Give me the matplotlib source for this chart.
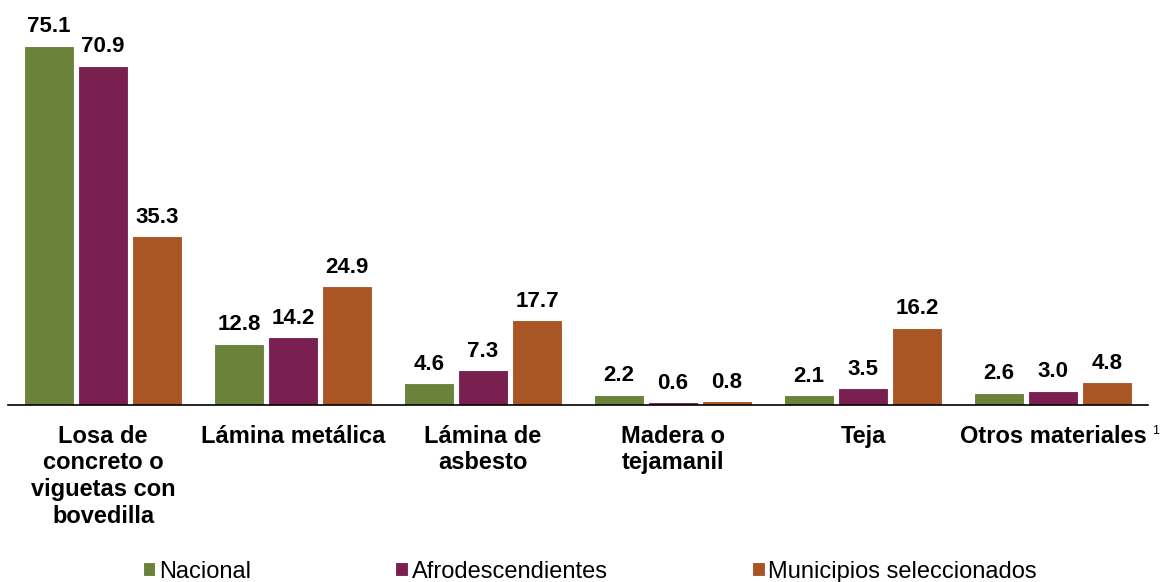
import numpy as np
import matplotlib.pyplot as plt

plt.rcParams['font.family'] = ['Liberation Sans', 'DejaVu Sans']

categorias = ['Losa de\nconcreto o\nviguetas con\nbovedilla', 'Lámina metálica',
              'Lámina de\nasbesto', 'Madera o\ntejamanil', 'Teja', 'Otros materiales']
nacional = [75.1, 12.8, 4.6, 2.2, 2.1, 2.6]
afro = [70.9, 14.2, 7.3, 0.6, 3.5, 3.0]
municipios = [35.3, 24.9, 17.7, 0.8, 16.2, 4.8]

series = [('Nacional', nacional, '#6A823A'),
          ('Afrodescendientes', afro, '#7A2050'),
          ('Municipios seleccionados', municipios, '#AA5624')]

fig = plt.figure(figsize=(11.63, 5.82), dpi=100)
ax = fig.add_axes([0.007, 0.304, 0.980, 0.658])

x = np.arange(len(categorias))
w = 0.265
off = 0.284
for i, (name, vals, col) in enumerate(series):
    bars = ax.bar(x + (i - 1) * off, vals, w, color=col, edgecolor='white',
                  linewidth=0.8, label=name)
    for b, v in zip(bars, vals):
        ax.annotate(f'{v:.1f}', (b.get_x() + b.get_width() / 2, v),
                    xytext=(0, 6), textcoords='offset points',
                    ha='center', va='bottom', fontsize=16, fontweight='bold')

ax.set_xlim(-0.5, 5.5)
ax.set_ylim(0, 80)
ax.set_yticks([])
ax.set_xticks(x)
ax.set_xticklabels(categorias, fontsize=17, fontweight='bold', linespacing=1.22)
ax.tick_params(axis='x', length=0, pad=14)
for s in ['top', 'right', 'left']:
    ax.spines[s].set_visible(False)
ax.spines['bottom'].set_linewidth(1.2)

fig.text(0.9905, 0.255, '1', fontsize=9)

fig.legend(loc='center', bbox_to_anchor=(0.507, 0.018), ncol=3, frameon=False,
           fontsize=17, handlelength=0.55, handleheight=0.55, handletextpad=0.15,
           columnspacing=6.1)

fig.savefig('out.png', dpi=100)
